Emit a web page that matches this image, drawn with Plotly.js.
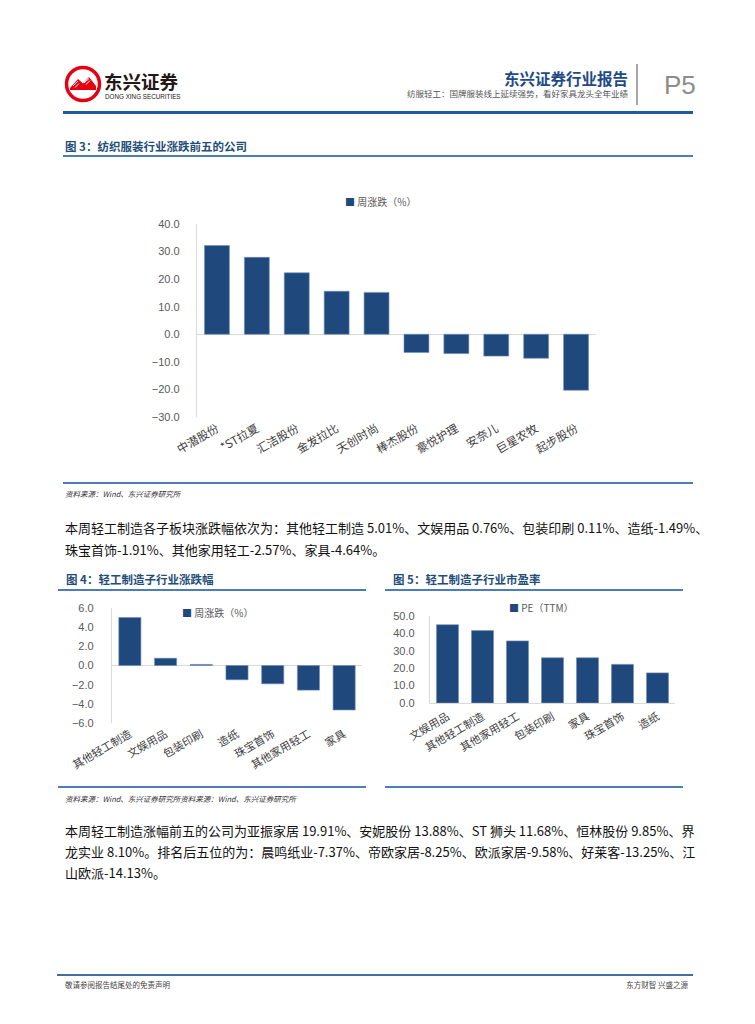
<!DOCTYPE html>
<html>
<head>
<meta charset="utf-8">
<script src="https://cdn.plot.ly/plotly-3.0.1.min.js"></script>
<style>
  html, body { margin:0; padding:0; background:#fff; }
  body { width:755px; height:1024px; position:relative; overflow:hidden;
         font-family:"Noto Sans CJK SC","Liberation Sans",sans-serif; }
  .abs { position:absolute; white-space:nowrap; }
  .hline { position:absolute; }
  .figtitle { position:absolute; font-size:11.5px; font-weight:bold; color:#1f4e79; line-height:14px; }
  .src { position:absolute; font-size:7.5px; font-style:italic; color:#333; line-height:10px; white-space:nowrap; }
  .para { position:absolute; left:65px; width:626px; font-size:13px; color:#111; line-height:18px;
          text-align:justify; text-align-last:justify; white-space:nowrap; }
  .para.last { text-align-last:left; }
  .chart { position:absolute; }
</style>
</head>
<body>
<script>
// ---------- data ----------
const fig3Categories = ['中潜股份','*ST拉夏','汇洁股份','金发拉比','天创时尚','棒杰股份','豪悦护理','安奈儿','巨星农牧','起步股份'];
const fig3Values = [32.2, 27.9, 22.3, 15.6, 15.2, -6.6, -7.0, -7.9, -8.7, -20.3];
const fig3SeriesName = '周涨跌（%）';

const fig4Categories = ['其他轻工制造','文娱用品','包装印刷','造纸','珠宝首饰','其他家用轻工','家具'];
const fig4Values = [5.01, 0.76, 0.11, -1.49, -1.91, -2.57, -4.64];
const fig4SeriesName = '周涨跌（%）';

const fig5Categories = ['文娱用品','其他轻工制造','其他家用轻工','包装印刷','家具','珠宝首饰','造纸'];
const fig5Values = [45.0, 41.6, 35.7, 26.0, 26.0, 22.2, 17.3];
const fig5SeriesName = 'PE（TTM）';
</script>

<!-- header -->
<svg class="abs" style="left:64px;top:65px" width="38" height="38" viewBox="0 0 38 38">
  <circle cx="19" cy="19" r="16.5" fill="#fff" stroke="#e60012" stroke-width="3.5"/>
  <path d="M6 23 L14 14 L19 18.5 L25 12 L32 21 L32 25 L6 25 Z" fill="#e60012"/>
  <path d="M9 21 L14 16 M11 22.5 L15 18.5 M20 18 L25 13.5 M22 19.5 L26 15.5" stroke="#fff" stroke-width="1"/>
</svg>
<div class="abs" style="left:104px;top:72px;font-size:18.5px;font-weight:bold;color:#231815;line-height:19px;">东兴证券</div>
<div class="abs" style="left:105px;top:93px;font-size:6.3px;color:#231815;line-height:7px;font-family:'Liberation Sans',sans-serif;">DONG XING SECURITIES</div>
<div class="abs" style="right:127px;top:68px;font-size:15.5px;font-weight:bold;color:#1e4b87;line-height:20px;">东兴证券行业报告</div>
<div class="abs" style="right:127px;top:88px;font-size:8.5px;color:#555;line-height:10px;">纺服轻工：国牌服装线上延续强势，看好家具龙头全年业绩</div>
<div class="hline" style="left:636px;top:64px;width:1.5px;height:41px;background:#a6a6a6;"></div>
<div class="abs" style="left:664px;top:69px;font-size:26px;color:#8c8c8c;line-height:32px;font-family:'Liberation Sans',sans-serif;">P5</div>
<div class="hline" style="left:63px;top:111px;width:630px;height:3px;background:#215a9a;"></div>

<!-- figure 3 -->
<div class="figtitle" style="left:65px;top:139px;">图 3：纺织服装行业涨跌前五的公司</div>
<div class="hline" style="left:63px;top:155px;width:630px;height:1.5px;background:#4a7ebb;"></div>
<div id="chart3" class="chart" style="left:140px;top:185px;width:480px;height:290px;"></div>
<div class="hline" style="left:63px;top:482px;width:630px;height:1.5px;background:#4a7ebb;"></div>
<div class="src" style="left:65px;top:489px;">资料来源：Wind、东兴证券研究所</div>

<div class="para" style="top:519px;">本周轻工制造各子板块涨跌幅依次为：其他轻工制造 5.01%、文娱用品 0.76%、包装印刷 0.11%、造纸-1.49%、</div>
<div class="para last" style="top:541px;">珠宝首饰-1.91%、其他家用轻工-2.57%、家具-4.64%。</div>

<!-- figure 4 / 5 -->
<div class="figtitle" style="left:66px;top:572px;">图 4：轻工制造子行业涨跌幅</div>
<div class="figtitle" style="left:393px;top:572px;">图 5：轻工制造子行业市盈率</div>
<div class="hline" style="left:58px;top:589px;width:308px;height:1.5px;background:#4a7ebb;"></div>
<div class="hline" style="left:385px;top:589px;width:298px;height:1.5px;background:#4a7ebb;"></div>
<div id="chart4" class="chart" style="left:40px;top:595px;width:330px;height:185px;"></div>
<div id="chart5" class="chart" style="left:380px;top:595px;width:320px;height:185px;"></div>
<div class="hline" style="left:58px;top:786px;width:308px;height:1.5px;background:#4a7ebb;"></div>
<div class="hline" style="left:385px;top:786px;width:298px;height:1.5px;background:#4a7ebb;"></div>
<div class="src" style="left:65px;top:794px;">资料来源：Wind、东兴证券研究所资料来源：Wind、东兴证券研究所</div>

<div class="para" style="top:822px;">本周轻工制造涨幅前五的公司为亚振家居 19.91%、安妮股份 13.88%、ST 狮头 11.68%、恒林股份 9.85%、界</div>
<div class="para" style="top:843px;">龙实业 8.10%。排名后五位的为：晨鸣纸业-7.37%、帝欧家居-8.25%、欧派家居-9.58%、好莱客-13.25%、江</div>
<div class="para last" style="top:864px;">山欧派-14.13%。</div>

<!-- footer -->
<div class="hline" style="left:57px;top:974px;width:636px;height:2px;background:#3f6fa8;"></div>
<div class="src" style="left:65px;top:980px;font-style:normal;color:#444;">敬请参阅报告结尾处的免责声明</div>
<div class="src" style="right:67px;top:980px;font-style:normal;color:#444;">东方财智 兴盛之源</div>

<script>
const BAR = '#1f497d';
const FONT = '"Noto Sans CJK SC","Liberation Sans",sans-serif';
const AXC = '#d9d9d9';

function legendAnn(name, x, y) {
  return {
    xref:'paper', yref:'paper', x:x, y:y, xanchor:'left', yanchor:'middle',
    showarrow:false,
    text:'<span style="color:' + BAR + '">■</span> ' + name,
    font:{size:10, color:'#595959', family:FONT}
  };
}

function makeChart(id, cats, vals, name, opts) {
  const trace = {
    type:'bar', x:cats, y:vals, name:name,
    marker:{color:BAR, line:{color:'#6f8fbf', width:0.6}},
    hoverinfo:'x+y'
  };
  const layout = {
    width:opts.w, height:opts.h,
    margin:{l:opts.l, r:opts.r, t:opts.t, b:opts.b, pad:0},
    paper_bgcolor:'rgba(0,0,0,0)', plot_bgcolor:'rgba(0,0,0,0)',
    showlegend:false,
    bargap:opts.gap,
    font:{family:FONT, color:'#404040'},
    xaxis:{
      type:'category', showgrid:false, zeroline:false,
      showline:opts.xline, linecolor:AXC, linewidth:1.2,
      ticks:'', tickangle:-30, automargin:false,
      tickfont:{size:opts.xfs, color:'#404040', family:FONT},
      ticklabelstandoff:2
    },
    yaxis:{
      range:opts.range, dtick:opts.dtick, tick0:0, tickformat:'.1f',
      showgrid:false, zeroline:opts.zl, zerolinecolor:AXC, zerolinewidth:1.2,
      showline:true, linecolor:AXC, linewidth:1.2,
      ticks:'', automargin:false, ticklabelstandoff:opts.so,
      tickfont:{size:11, color:'#595959', family:'"Liberation Sans",sans-serif'}
    },
    annotations:[legendAnn(name, opts.legx, opts.legy)]
  };
  Plotly.newPlot(id, [trace], layout, {staticPlot:true, displayModeBar:false});
}

makeChart('chart3', fig3Categories, fig3Values, fig3SeriesName,
  {w:480, h:290, l:57, r:24, t:39, b:58, gap:0.375, range:[-30,40], dtick:10,
   zl:true, xline:false, xfs:11.5, so:14, legx:0.366, legy:1.119});

makeChart('chart4', fig4Categories, fig4Values, fig4SeriesName,
  {w:330, h:185, l:72, r:8, t:13, b:57, gap:0.38, range:[-6,6], dtick:2,
   zl:true, xline:false, xfs:11, so:15, legx:0.272, legy:0.957});

makeChart('chart5', fig5Categories, fig5Values, fig5SeriesName,
  {w:320, h:185, l:50, r:25, t:21, b:77, gap:0.37, range:[0,50], dtick:10,
   zl:false, xline:true, xfs:11, so:12, legx:0.314, legy:1.092});
</script>
</body>
</html>
